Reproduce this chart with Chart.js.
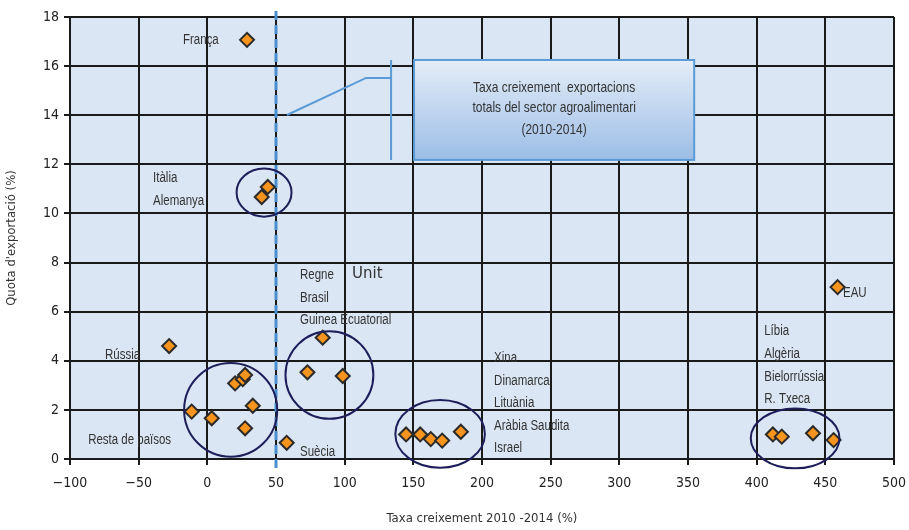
<!DOCTYPE html>
<html>
<head>
<meta charset="utf-8">
<script src="https://cdn.jsdelivr.net/npm/chart.js@4"></script>
<style>
  body { margin: 0; background: #fff; }
  #wrap { width: 909px; height: 530px; }
</style>
</head>
<body>
<div id="wrap"><canvas id="chart"></canvas></div>
<script>
// values
const growthX = [28.9, 44, 39.6, -27.8, -11.4, 3.2, 20.2, 25.8, 27.5, 33.1, 27.5, 57.8,
  84, 72.9, 98.6, 144.7, 155, 162.7, 171, 184.6, 411.8, 418.3, 441, 456, 458.9];
const shareY = [17.07, 11.08, 10.67, 4.6, 1.93, 1.66, 3.08, 3.25, 3.42, 2.17, 1.25, 0.66,
  4.94, 3.53, 3.38, 1.0, 1.0, 0.81, 0.75, 1.11, 1.0, 0.91, 1.05, 0.77, 7.0];

const xTicks = [-100, -50, 0, 50, 100, 150, 200, 250, 300, 350, 400, 450, 500];
const yTicks = [0, 2, 4, 6, 8, 10, 12, 14, 16, 18];
const avgGrowth = 50;

// country labels [text, x, y]
const labels = [
  ["França", -17.7, 17.07], ["Itàlia", -39.5, 11.45], ["Alemanya", -39.5, 10.5],
  ["Rússia", -74.5, 4.24], ["Resta de països", -86.8, 0.77],
  ["Regne", 67.5, 7.5], ["Brasil", 67.5, 6.56], ["Guinea Ecuatorial", 67.5, 5.66],
  ["Suècia", 67.5, 0.29],
  ["Xina", 208.8, 4.11], ["Dinamarca", 208.8, 3.18], ["Lituània", 208.8, 2.28],
  ["Aràbia Saudita", 208.8, 1.34], ["Israel", 208.8, 0.45],
  ["Líbia", 405.5, 5.21], ["Algèria", 405.5, 4.28], ["Bielorrússia", 405.5, 3.34],
  ["R. Txeca", 405.5, 2.44], ["EAU", 462.9, 6.76]
];
// ellipses round the groups [cx, cy, rx, ry] in data units
const groups = [
  [41.3, 10.85, 20, 0.98], [17.0, 2.0, 33.9, 1.91], [88.9, 3.42, 32, 1.78],
  [169.5, 1.02, 32.6, 1.38], [428, 0.84, 32.3, 1.22]
];
const calloutLines = ["Taxa creixement  exportacions", "totals del sector agroalimentari", "(2010-2014)"];

const narrow = '"Liberation Sans", Arial, sans-serif';
const tickFont = "'DejaVu Sans Condensed', sans-serif";

// squeeze text sideways to look like the condensed face in the picture
function narrowText(ctx, text, px, py, squeeze) {
  ctx.save();
  ctx.translate(px, py);
  ctx.scale(squeeze, 1);
  ctx.fillText(text, 0, 0);
  ctx.restore();
}

const extras = {
  id: "extras",
  beforeDraw(chart) {
    const { ctx, chartArea: a } = chart;
    ctx.save();
    ctx.fillStyle = "#dae6f3";
    ctx.fillRect(a.left, a.top, a.right - a.left, a.bottom - a.top);
    ctx.restore();
  },
  beforeDatasetsDraw(chart) {
    // dashed average line
    const { ctx, chartArea: a, scales: { x } } = chart;
    const px = x.getPixelForValue(avgGrowth);
    ctx.save();
    ctx.strokeStyle = "#4a8fd0";
    ctx.lineWidth = 3;
    ctx.setLineDash([9, 5]);
    ctx.beginPath();
    ctx.moveTo(px, a.top - 6);
    ctx.lineTo(px, a.bottom + 11);
    ctx.stroke();
    ctx.restore();
  },
  afterDatasetsDraw(chart) {
    const { ctx, scales: { x, y } } = chart;
    ctx.save();
    // ellipses
    ctx.strokeStyle = "#1e1e5a";
    ctx.lineWidth = 2;
    groups.forEach(([cx, cy, rx, ry]) => {
      const px = x.getPixelForValue(cx), py = y.getPixelForValue(cy);
      const prx = Math.abs(x.getPixelForValue(cx + rx) - px);
      const pry = Math.abs(y.getPixelForValue(cy + ry) - py);
      ctx.beginPath();
      ctx.ellipse(px, py, prx, pry, 0, 0, Math.PI * 2);
      ctx.stroke();
    });
    // labels
    ctx.fillStyle = "#333";
    ctx.font = "14px " + narrow;
    ctx.textBaseline = "middle";
    labels.forEach(([t, lx, ly]) => {
      narrowText(ctx, t, x.getPixelForValue(lx), y.getPixelForValue(ly), 0.82);
    });
    ctx.font = "15px 'DejaVu Sans', sans-serif";
    ctx.fillText("Unit", x.getPixelForValue(105.4), y.getPixelForValue(7.54));

    // callout connector
    ctx.strokeStyle = "#5a9bd5";
    ctx.lineWidth = 2;
    ctx.beginPath();
    ctx.moveTo(x.getPixelForValue(58), y.getPixelForValue(14.01));
    ctx.lineTo(x.getPixelForValue(115.6), y.getPixelForValue(15.52));
    ctx.lineTo(x.getPixelForValue(133.8), y.getPixelForValue(15.52));
    ctx.moveTo(x.getPixelForValue(133.8), y.getPixelForValue(16.25));
    ctx.lineTo(x.getPixelForValue(133.8), y.getPixelForValue(12.18));
    ctx.stroke();
    // callout box
    const bx = x.getPixelForValue(150.5), by = y.getPixelForValue(16.25);
    const bw = x.getPixelForValue(354.5) - bx, bh = y.getPixelForValue(12.18) - by;
    const g = ctx.createLinearGradient(0, by, 0, by + bh);
    g.addColorStop(0, "#e4edf7");
    g.addColorStop(1, "#9cbde6");
    ctx.fillStyle = g;
    ctx.fillRect(bx, by, bw, bh);
    ctx.strokeRect(bx, by, bw, bh);
    ctx.fillStyle = "#333";
    ctx.font = "15px " + narrow;
    ctx.textAlign = "center";
    [15.11, 14.3, 13.4].forEach((ly, i) => {
      narrowText(ctx, calloutLines[i], x.getPixelForValue(252.5), y.getPixelForValue(ly), 0.8);
    });
    ctx.restore();
  }
};

new Chart(document.getElementById("chart"), {
  type: "scatter",
  data: {
    datasets: [{
      data: growthX.map((v, i) => ({ x: v, y: shareY[i] })),
      pointStyle: "rectRot",
      pointRadius: 7,
      pointHoverRadius: 7,
      backgroundColor: "#f7941d",
      borderColor: "#2b2b2b",
      borderWidth: 2
    }]
  },
  options: {
    responsive: true,
    maintainAspectRatio: false,
    animation: false,
    layout: { padding: { top: 17, right: 15, left: 0, bottom: 0 } },
    plugins: { legend: { display: false }, tooltip: { enabled: false } },
    scales: {
      x: {
        min: -100, max: 500,
        afterBuildTicks: (s) => { s.ticks = xTicks.map((v) => ({ value: v })); },
        afterFit: (s) => { s.height = 71; s.paddingRight = 0; },
        grid: { color: "#1a1a1a", lineWidth: 2, tickLength: 6 },
        border: { display: false },
        ticks: {
          color: "#222", font: { family: tickFont, size: 14 }, padding: 10,
          callback: (v) => String(v).replace("-", "\u2212")
        },
        title: {
          display: true, text: "Taxa creixement 2010 -2014 (%)", color: "#333",
          font: { family: tickFont, size: 13 }, padding: { top: 10 }
        }
      },
      y: {
        min: 0, max: 18,
        afterBuildTicks: (s) => { s.ticks = yTicks.map((v) => ({ value: v })); },
        afterFit: (s) => { s.width = 70; },
        grid: { color: "#1a1a1a", lineWidth: 2, tickLength: 6 },
        border: { display: false },
        ticks: { color: "#222", font: { family: tickFont, size: 14 }, padding: 5 },
        title: {
          display: true, text: "Quota d'exportació (%)", color: "#333",
          font: { family: tickFont, size: 13 }, padding: { top: 4, bottom: 4 }
        }
      }
    }
  },
  plugins: [extras]
});
</script>
</body>
</html>
